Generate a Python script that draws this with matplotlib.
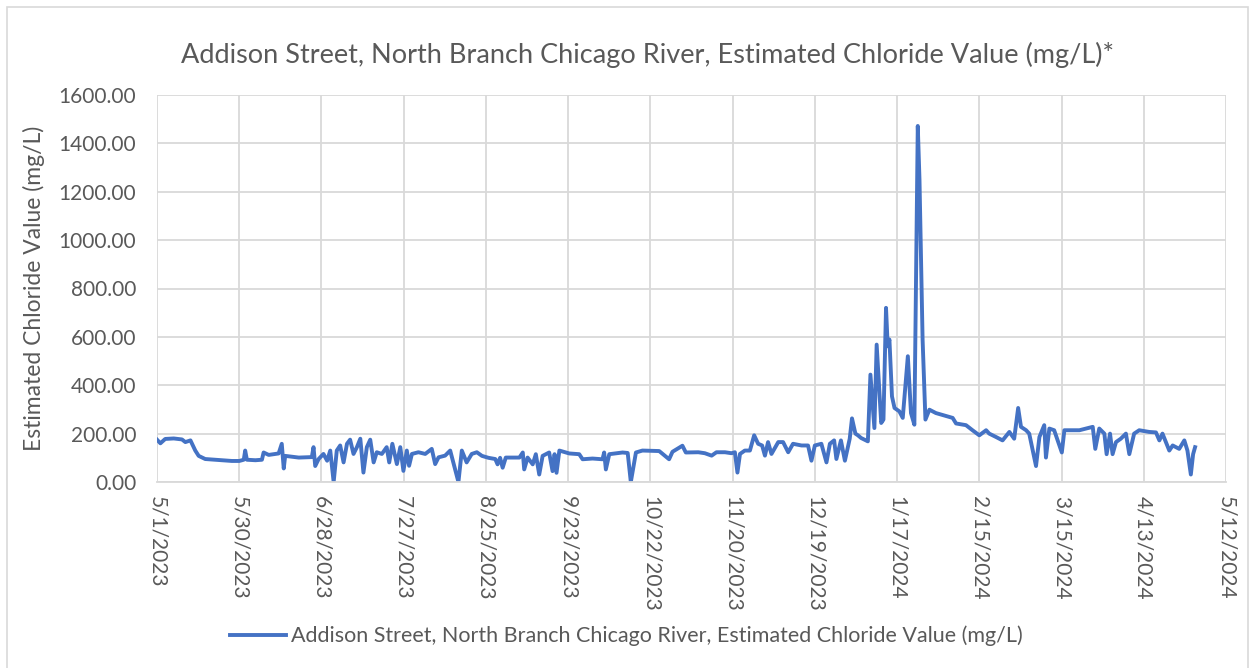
import numpy as np
import pandas as pd
import matplotlib.pyplot as plt
from matplotlib.patches import Rectangle

# days after 5/1/2023
days = [0, 1.2, 2.9, 5.9, 8.8, 10, 11.8, 13.5, 14.7, 17, 20.6, 26.4, 29, 30.6, 31.1, 31.7,
        34.7, 37, 37.6, 39.4, 42.9, 44, 44.7, 45.2, 50, 54.6, 55.2, 55.8,
        57, 58.7, 60, 61.1, 62.3, 63.4, 64.6, 65.8, 67, 68.1, 69.3, 70.5, 71.7, 72.8,
        74, 75.2, 76.4, 77.5, 79.3, 81, 81.9, 83, 84.6, 85.8, 86.9, 88.1, 88.9, 89.9,
        92.2, 94.6, 96.9, 98.1, 99.3, 101.6, 103.4, 104.5, 106.3, 107.5, 109.2, 111, 112.8,
        114.6, 116.9, 119.3, 120.1, 121, 121.9, 123, 127.8, 129, 129.5, 130.7, 132.5, 133.6,
        134.8, 136, 138.3, 139.5, 140.2, 140.9, 141.9, 145.4, 148.9, 150.1, 153.6, 157.1,
        157.7, 158.3, 159.5, 164.2, 166, 167.1, 168.9, 171.2, 177.1, 180.6, 181.8, 185.3,
        186.5, 190.9, 193.2, 195.6, 197.3, 200.3, 202.6, 203.8, 204.7, 205.6, 207.3, 209.1,
        210.6, 212, 213.4, 214.4, 215.5, 216.7, 219.1, 220.8, 222.6, 224.3, 227.3, 229.6,
        230.8, 232, 234.3, 236.1, 237.3, 238.8, 239.6, 241.2, 242.6, 244.3, 245.1, 246.3,
        247.2, 248.3, 250.7, 251.6, 253, 253.8, 254.8, 255.4, 256.2, 257.1, 257.7, 258.3,
        259.2, 260.1, 261.8, 263, 264.8, 265.9, 267.1, 268.3, 268.9, 270, 271, 272.4,
        274.7, 280.6, 281.8, 285.3, 287.6, 290, 292.4, 293.5, 295.9, 298.2, 300.6, 302.3,
        303.7, 304.7, 306.5, 307.6, 310, 311.2, 312.9, 313.5, 314.7, 316.4, 319.1, 320,
        325.3, 330, 330.9, 332.3, 334.1, 334.9, 336.1, 337, 338.2, 339.9, 341.7, 342.9,
        344.6, 346.4, 349.9, 352.3, 353.5, 354.6, 357, 358.2, 360.5, 362.3, 363.4, 364.6,
        365.4, 366.1]

chloride = [175, 160, 178, 180, 176, 165, 172, 130, 108, 95, 92, 87, 87, 92, 130, 92,
            90, 92, 122, 112, 118, 158, 56, 108, 101, 103, 144, 66,
            95, 116, 88, 130, 0, 130, 151, 81, 158, 175, 116, 144, 179, 39,
            144, 175, 81, 123, 116, 144, 81, 158, 74, 144, 46, 130, 67, 116,
            123, 116, 137, 74, 102, 109, 130, 81, 0, 130, 81, 116, 123,
            108, 100, 95, 73, 100, 59, 101, 101, 122, 52, 101, 73, 115,
            31, 108, 122, 45, 115, 38, 130, 118, 115, 94, 97, 94,
            122, 52, 115, 122, 120, 0, 122, 130, 128, 94, 125, 150,
            122, 123, 119, 109, 123, 123, 119, 123, 39, 116, 130, 130,
            193, 158, 151, 109, 165, 116, 165, 165, 123, 158, 151, 151,
            88, 151, 158, 81, 158, 172, 95, 172, 88, 179, 263, 200,
            193, 182, 168, 444, 223, 568, 368, 244, 258, 720, 561, 589,
            354, 306, 292, 265, 520, 285, 237, 1472, 1251, 589, 258, 299,
            285, 265, 242, 235, 214, 193, 214, 200, 186, 172, 207, 179,
            306, 228, 214, 200, 66, 186, 235, 101, 221, 214, 122, 214,
            214, 228, 137, 221, 200, 115, 200, 115, 165, 179, 200, 115,
            200, 214, 207, 205, 172, 200, 130, 151, 137, 172, 130, 31,
            115, 144]

start = pd.Timestamp('2023-05-01')
dates = start + pd.to_timedelta(days, unit='D')
tick_dates = [start + pd.Timedelta(days=29 * k) for k in range(14)]

txt = '#595959'
grid = '#D9D9D9'

fig = plt.figure(figsize=(12.53, 6.68), dpi=100)
plt.rcParams['font.family'] = ['Lato', 'DejaVu Sans']
ax = fig.add_axes([157 / 1253, 1 - 482 / 668, (1226 - 157) / 1253, (482 - 95) / 668])

ax.plot(dates, chloride, color='#4472C4', lw=2.8, solid_joinstyle='round',
        label='Addison Street, North Branch Chicago River, Estimated Chloride Value (mg/L)')

ax.set_xlim(tick_dates[0], tick_dates[-1])
ax.set_ylim(0, 1600)
ax.set_yticks(np.arange(0, 1601, 200))
ax.yaxis.set_major_formatter(plt.FuncFormatter(lambda v, p: '%.2f' % v))
ax.set_xticks(tick_dates)
ax.set_xticklabels([f'{d.month}/{d.day}/{d.year}' for d in tick_dates], rotation=270)

ax.grid(True, color=grid, lw=1.3)
ax.set_axisbelow(True)
for s in ['top', 'right', 'left']:
    ax.spines[s].set_visible(False)
ax.spines['bottom'].set_color(grid)
ax.spines['bottom'].set_linewidth(1.3)
ax.tick_params(length=0, colors=txt, labelsize=15)
ax.tick_params(axis='y', pad=15)
ax.tick_params(axis='x', pad=10)

ax.set_ylabel('Estimated Chloride Value (mg/L)', color=txt, fontsize=16.5, labelpad=10)
fig.text(0.517, 1 - 55 / 668, 'Addison Street, North Branch Chicago River, Estimated Chloride Value (mg/L)*',
         ha='center', va='center', color=txt, fontsize=19.5)

fig.legend(loc='center', bbox_to_anchor=(0.5, 1 - 636 / 668), frameon=False,
           fontsize=15.5, labelcolor=txt, handlelength=2.6, handletextpad=0.25)

fig.patches.append(Rectangle((7 / 1253, -0.01), 1241 / 1253, 1 - 7 / 668 + 0.01, transform=fig.transFigure,
                             fill=False, edgecolor=grid, lw=1.2))

fig.savefig('out.png', dpi=100)
